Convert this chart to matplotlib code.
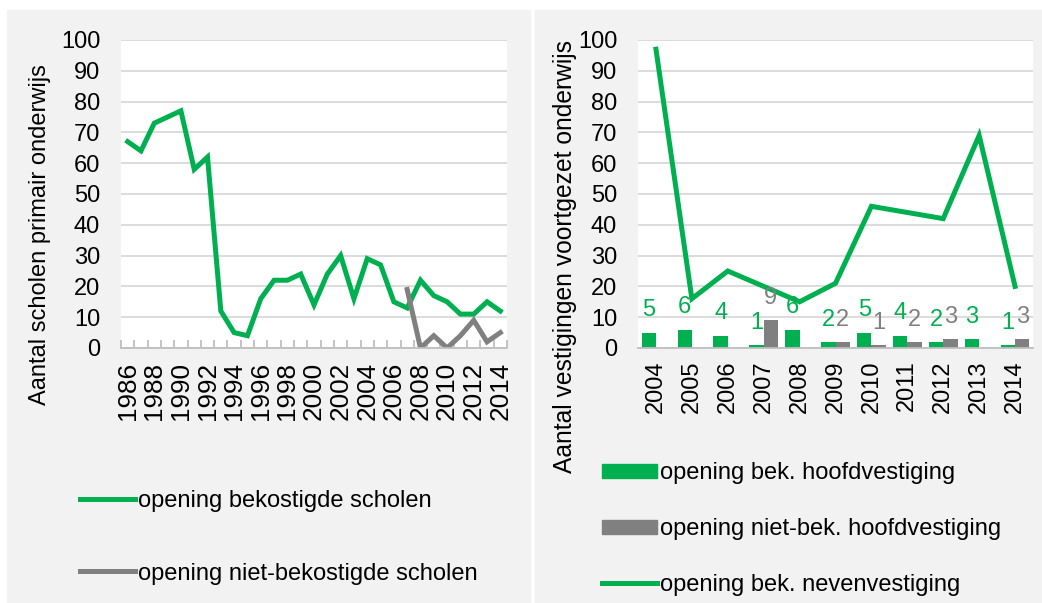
import numpy as np
import matplotlib.pyplot as plt
from matplotlib.patches import Rectangle
from matplotlib.lines import Line2D
from matplotlib.patches import Patch

plt.rcParams['font.family'] = ['Liberation Sans', 'DejaVu Sans']

# ---- data, left: primair onderwijs
jaren_po = list(range(1986, 2015))
bekostigd_po = [67, 64, 73, 75, 77, 58, 62, 12, 5, 4, 16, 22, 22, 24, 14, 24, 30, 16,
                29, 27, 15, 13, 22, 17, 15, 11, 11, 15, 12]
niet_bek_jaren = list(range(2007, 2015))
niet_bek_po = [19, 0, 4, 0, 4, 9, 2, 5]

# ---- data, right: voortgezet onderwijs
jaren_vo = list(range(2004, 2015))
bek_hoofd = [5, 6, 4, 1, 6, 2, 5, 4, 2, 3, 1]
niet_bek_hoofd = [0, 0, 0, 9, 0, 2, 1, 2, 3, 0, 3]
bek_neven = [97, 16, 25, 20, 15, 21, 46, 44, 42, 69, 20]

groen = '#00b050'
grijs = '#808080'
fs = 17
W, H = 1042, 603

fig = plt.figure(figsize=(W / 100, H / 100), dpi=100)
fig.patch.set_facecolor('white')
fig.patches.append(Rectangle((7 / W, 0), 523 / W, 593 / H, transform=fig.transFigure,
                             color='#f2f2f2', zorder=-5))
fig.patches.append(Rectangle((535 / W, 0), 507 / W, 593 / H, transform=fig.transFigure,
                             color='#f2f2f2', zorder=-5))


def opmaak(ax):
    ax.set_facecolor('white')
    ax.set_ylim(0, 100)
    ax.set_yticks(range(0, 101, 10))
    ax.yaxis.grid(True, color='#d9d9d9', lw=1.3)
    ax.set_axisbelow(True)
    for s in ['top', 'right', 'left']:
        ax.spines[s].set_visible(False)
    ax.spines['bottom'].set_color('#bfbfbf')
    ax.spines['bottom'].set_linewidth(1.3)
    ax.tick_params(axis='y', length=0, pad=15, labelsize=fs)
    ax.tick_params(axis='x', rotation=90)


# ---- left chart
ax1 = fig.add_axes([121 / W, 255 / H, 386 / W, 308 / H])
opmaak(ax1)
x1 = np.arange(len(jaren_po))
ax1.plot(x1, bekostigd_po, color=groen, lw=3.6, solid_joinstyle='miter')
x_nb = np.array([jaren_po.index(j) for j in niet_bek_jaren])
ax1.plot(x_nb, niet_bek_po, color=grijs, lw=3.6, solid_joinstyle='miter')
ax1.set_xlim(-0.5, len(jaren_po) - 0.5)
ax1.set_xticks(x1[::2])
ax1.set_xticklabels([str(j) for j in jaren_po[::2]])
ax1.set_xticks(np.arange(-0.5, len(jaren_po)), minor=True)
ax1.tick_params(axis='x', which='major', length=0, pad=10, labelsize=18.8)
ax1.tick_params(axis='x', which='minor', length=6, direction='in', color='#bfbfbf', width=1.3)
fig.text(40 / W, 1 - 235 / H, 'Aantal scholen primair onderwijs', rotation=90,
         ha='center', va='center', fontsize=fs)

# ---- right chart
ax2 = fig.add_axes([638 / W, 255 / H, 395 / W, 308 / H])
opmaak(ax2)
x2 = np.arange(len(jaren_vo))
bw = 0.4
ax2.bar(x2 - bw / 2, bek_hoofd, bw, color=groen)
ax2.bar(x2 + bw / 2, niet_bek_hoofd, bw, color=grijs)
ax2.plot(x2, bek_neven, color=groen, lw=3.6, solid_joinstyle='miter')
for xi, v in zip(x2, bek_hoofd):
    ax2.annotate(str(v), (xi - bw / 2, v), xytext=(0, 16), textcoords='offset points',
                 ha='center', va='center', color=groen, fontsize=fs)
for xi, v in zip(x2, niet_bek_hoofd):
    if v > 0:
        ax2.annotate(str(v), (xi + bw / 2, v), xytext=(0, 16), textcoords='offset points',
                     ha='center', va='center', color=grijs, fontsize=fs)
ax2.set_xlim(-0.5, len(jaren_vo) - 0.5)
ax2.set_xticks(x2)
ax2.set_xticklabels([str(j) for j in jaren_vo])
ax2.tick_params(axis='x', length=0, pad=9, labelsize=fs)
fig.text(565 / W, 1 - 257 / H, 'Aantal vestigingen voortgezet onderwijs', rotation=90,
         ha='center', va='center', fontsize=17.7)

# ---- legends
h_links = [Line2D([], [], color=groen, lw=3.6), Line2D([], [], color=grijs, lw=3.6)]
fig.legend(h_links, ['opening bekostigde scholen', 'opening niet-bekostigde scholen'],
           loc='upper left', bbox_to_anchor=(80 / W, 1 - 490 / H), frameon=False,
           fontsize=fs, borderpad=0, borderaxespad=0, handlelength=2.33,
           handletextpad=0.13, labelspacing=2.14)

h_rechts = [Patch(color=groen), Patch(color=grijs), Line2D([], [], color=groen, lw=3.6)]
fig.legend(h_rechts, ['opening bek. hoofdvestiging', 'opening niet-bek. hoofdvestiging',
                      'opening bek. nevenvestiging'],
           loc='upper left', bbox_to_anchor=(602 / W, 1 - 462 / H), frameon=False,
           fontsize=fs, borderpad=0, borderaxespad=0, handlelength=2.33, handleheight=0.55,
           handletextpad=0.13, labelspacing=1.44)

plt.savefig('out.png', dpi=100)
